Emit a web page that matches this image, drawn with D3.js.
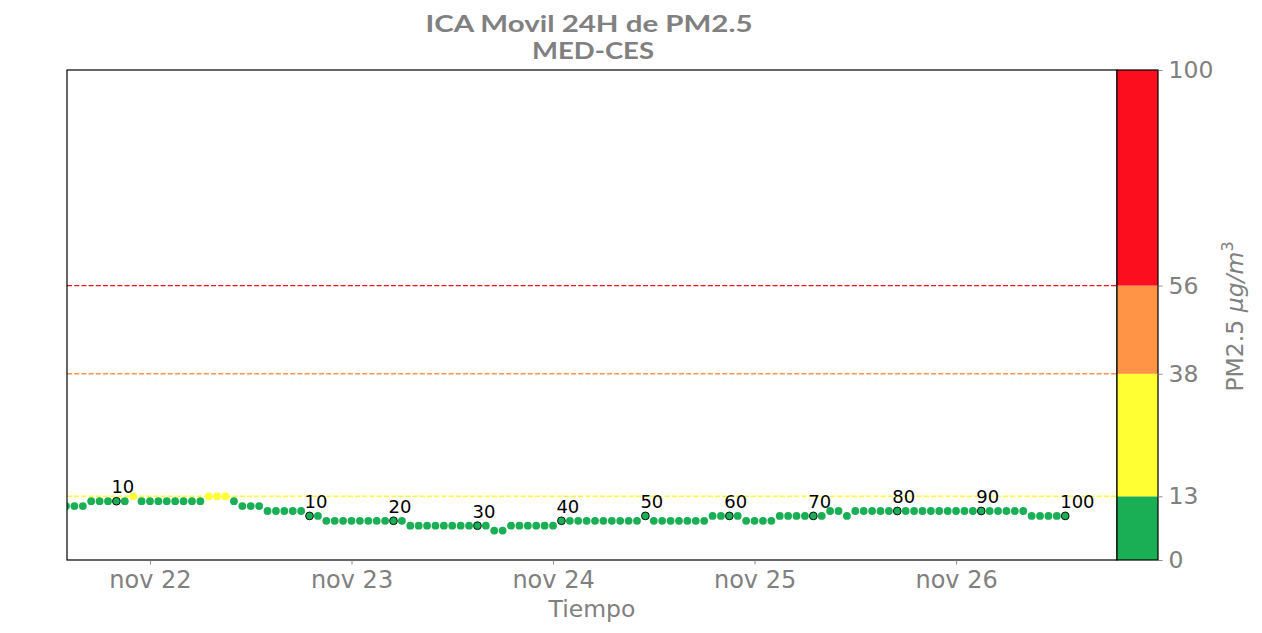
<!DOCTYPE html>
<html>
<head>
<meta charset="utf-8">
<script src="https://cdn.jsdelivr.net/npm/d3@7"></script>
<style>
  html, body { margin: 0; padding: 0; background: #fff; }
  svg { display: block; }
</style>
</head>
<body>
<svg id="chart" width="1262" height="633"></svg>
<script>
// ---------------- DATA ----------------
const titleLines = ["ICA Movil 24H de PM2.5", "MED-CES"];
const startTime = "2023-11-21T14:00:00Z";          // first hourly reading
const xDomain = ["2023-11-21T14:07:00Z", "2023-11-26T19:10:00Z"];
// hourly PM2.5 24h moving values (µg/m3)
const values = [
  11, 11, 11,
  12, 12, 12, 12, 12,
  13,
  12, 12, 12, 12, 12, 12, 12, 12,
  13, 13, 13,
  12,
  11, 11, 11,
  10, 10, 10, 10, 10,
  9, 9,
  8, 8, 8, 8, 8, 8, 8, 8, 8, 8,
  7, 7, 7, 7, 7, 7, 7, 7, 7, 7,
  6, 6,
  7, 7, 7, 7, 7, 7,
  8, 8, 8, 8, 8, 8, 8, 8, 8, 8,
  9,
  8, 8, 8, 8, 8, 8, 8,
  9, 9, 9, 9,
  8, 8, 8, 8,
  9, 9, 9, 9, 9, 9,
  10, 10,
  9,
  10, 10, 10, 10, 10, 10, 10, 10, 10, 10, 10, 10, 10, 10, 10, 10, 10, 10, 10, 10, 10,
  9, 9, 9, 9, 9
];
// indices (into values) of annotated points, and their annotation text
const labelIndex = [6, 29, 39, 49, 59, 69, 79, 89, 99, 109, 119];
const labelText  = ["10", "10", "20", "30", "40", "50", "60", "70", "80", "90", "100"];
// ICA category breakpoints and colours
const bandEdges  = [0, 13, 38, 56, 100];
const bandColors = ["#1aaf54", "#ffff33", "#ff9346", "#fc0e1f"];
const cbTicks = [0, 13, 38, 56, 100];
const thresholdLines = [13, 38, 56];
const thresholdColors = ["#ffff33", "#ff9346", "#fc0e1f"];
const xLabel = "Tiempo";

// ---------------- LAYOUT ----------------
const svg = d3.select("#chart");
const L = 67, R = 1117, T = 70, B = 560;
const cbL = 1117, cbR = 1158;
const gray = "#808080";
const font = "'DejaVu Sans', sans-serif";

const esLocale = d3.timeFormatLocale({
  dateTime: "%x, %X", date: "%d/%m/%Y", time: "%H:%M:%S", periods: ["AM", "PM"],
  days: ["domingo","lunes","martes","miércoles","jueves","viernes","sábado"],
  shortDays: ["dom","lun","mar","mié","jue","vie","sáb"],
  months: ["enero","febrero","marzo","abril","mayo","junio","julio","agosto","septiembre","octubre","noviembre","diciembre"],
  shortMonths: ["ene","feb","mar","abr","may","jun","jul","ago","sep","oct","nov","dic"]
});

const t0 = new Date(startTime);
const data = values.map((v, i) => ({ t: d3.utcHour.offset(t0, i), v, i }));

const x = d3.scaleUtc().domain(xDomain.map(d => new Date(d))).range([L, R]);
const y = d3.scaleLinear().domain([0, 100]).range([B, T]);
const catColor = d3.scaleThreshold().domain([13, 38, 56]).range(bandColors);

// clip
svg.append("defs").append("clipPath").attr("id", "plotclip")
  .append("rect").attr("x", L).attr("y", T).attr("width", R - L).attr("height", B - T);

// threshold dashed lines
svg.append("g").selectAll("line").data(thresholdLines).join("line")
  .attr("x1", L).attr("x2", R)
  .attr("y1", d => y(d)).attr("y2", d => y(d))
  .attr("stroke", (d, i) => thresholdColors[i])
  .attr("stroke-width", 1.4)
  .attr("stroke-dasharray", "5,2.2");

// points
const gPts = svg.append("g").attr("clip-path", "url(#plotclip)");
gPts.selectAll("circle").data(data).join("circle")
  .attr("cx", d => x(d.t)).attr("cy", d => y(d.v))
  .attr("r", 3.9)
  .attr("fill", d => catColor(d.v))
  .attr("stroke", d => labelIndex.includes(d.i) ? "#000" : "none")
  .attr("stroke-width", 0.9);

// annotations
const ann = labelIndex.map((idx, k) => ({ d: data[idx], text: labelText[k] }));
svg.append("g").selectAll("text").data(ann).join("text")
  .attr("x", a => x(a.d.t) - 5)
  .attr("y", a => y(a.d.v) - 8)
  .attr("font-family", font).attr("font-size", 18).attr("fill", "#000")
  .text(a => a.text);

// frame
svg.append("rect").attr("x", L).attr("y", T).attr("width", R - L).attr("height", B - T)
  .attr("fill", "none").attr("stroke", "#000").attr("stroke-width", 1.2);

// x axis
const xAxis = d3.axisBottom(x)
  .ticks(d3.utcDay.every(1))
  .tickFormat(esLocale.utcFormat("%b %d"))
  .tickSizeOuter(0).tickSizeInner(4.5).tickPadding(6);
const gx = svg.append("g").attr("transform", `translate(0,${B})`).call(xAxis);
gx.select(".domain").remove();
gx.selectAll(".tick line").attr("stroke", gray).attr("stroke-width", 0.9);
gx.selectAll(".tick text").attr("font-family", font).attr("font-size", 24).attr("fill", gray);

svg.append("text").attr("x", (L + R) / 2).attr("y", 617)
  .attr("text-anchor", "middle").attr("font-family", font).attr("font-size", 23.5)
  .attr("fill", gray).text(xLabel);

// colorbar
const bands = bandColors.map((c, i) => ({ lo: bandEdges[i], hi: bandEdges[i + 1], c }));
svg.append("g").selectAll("rect").data(bands).join("rect")
  .attr("x", cbL).attr("width", cbR - cbL)
  .attr("y", d => y(d.hi)).attr("height", d => y(d.lo) - y(d.hi))
  .attr("fill", d => d.c);
svg.append("rect").attr("x", cbL).attr("y", T).attr("width", cbR - cbL).attr("height", B - T)
  .attr("fill", "none").attr("stroke", "#000").attr("stroke-width", 1.2);

const cbAxis = d3.axisRight(y).tickValues(cbTicks).tickFormat(d3.format("d"))
  .tickSizeOuter(0).tickSizeInner(4.5).tickPadding(6);
const gcb = svg.append("g").attr("transform", `translate(${cbR},0)`).call(cbAxis);
gcb.select(".domain").remove();
gcb.selectAll(".tick line").attr("stroke", gray).attr("stroke-width", 0.9);
gcb.selectAll(".tick text").attr("font-family", font).attr("font-size", 23.5).attr("fill", gray);

// colorbar label
const yl = svg.append("text")
  .attr("transform", `translate(1243,${316.5}) rotate(-90)`)
  .attr("text-anchor", "middle").attr("font-family", font).attr("font-size", 23.5).attr("fill", gray);
yl.append("tspan").text("PM2.5 ");
yl.append("tspan").attr("font-style", "italic").text("μg/m");
yl.append("tspan").attr("font-size", 16).attr("dy", -10).text("3");

// title
const titleWidths = [327, 122];
const titleCenters = [589, 593];
svg.append("g").selectAll("text").data(titleLines).join("text")
  .attr("x", (d, i) => titleCenters[i]).attr("y", (d, i) => 32 + i * 27.4)
  .attr("text-anchor", "middle")
  .attr("textLength", (d, i) => titleWidths[i]).attr("lengthAdjust", "spacingAndGlyphs")
  .attr("font-family", "Lato, 'Open Sans', sans-serif").attr("font-weight", "bold")
  .attr("font-size", 22.6).attr("fill", gray)
  .text(d => d);
</script>
</body>
</html>
